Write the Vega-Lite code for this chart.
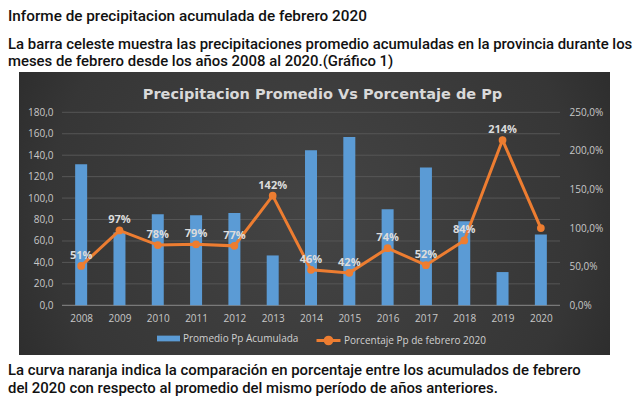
{
  "$schema": "https://vega.github.io/schema/vega-lite/v6.json",
  "width": 591,
  "height": 283,
  "autosize": {"type": "none"},
  "padding": {"left": 19, "top": 72, "right": 29, "bottom": 53},
  "background": "#ffffff",
  "config": {
    "view": {
      "stroke": null,
      "fill": {
        "gradient": "radial",
        "x1": 0.5, "y1": 0.5, "x2": 0.5, "y2": 0.5, "r1": 0, "r2": 0.75,
        "stops": [
          {"offset": 0, "color": "#444444"},
          {"offset": 0.6, "color": "#363636"},
          {"offset": 1, "color": "#1e1e1e"}
        ]
      }
    },
    "font": "Open Sans",
    "axis": {"domain": false, "ticks": false, "grid": false, "labelColor": "#c8c8c8", "labelFont": "Open Sans", "labelFontSize": 10, "labelOverlap": false, "title": null},
    "legend": {"labelColor": "#d0d0d0", "labelFont": "Open Sans", "labelFontSize": 10}
  },
  "title": {
    "text": "Informe de precipitacion acumulada de febrero 2020",
    "subtitle": [
      "La barra celeste muestra las precipitaciones promedio acumuladas en la provincia durante los",
      "meses de febrero desde los años 2008 al 2020.(Gráfico 1)"
    ],
    "anchor": "start",
    "frame": "group",
    "dx": -11,
    "offset": 3,
    "font": "Roboto",
    "fontSize": 15.3,
    "fontWeight": 500,
    "color": "#111111",
    "subtitleFont": "Roboto",
    "subtitleFontSize": 14.9,
    "subtitleFontWeight": 500,
    "subtitleColor": "#111111",
    "subtitleLineHeight": 17,
    "subtitlePadding": 13
  },
  "datasets": {
    "febrero": [
      {"anio": 2008, "pp": 131.5, "pct": 0.51},
      {"anio": 2009, "pp": 68, "pct": 0.97},
      {"anio": 2010, "pp": 85, "pct": 0.78},
      {"anio": 2011, "pp": 84, "pct": 0.79},
      {"anio": 2012, "pp": 86, "pct": 0.77},
      {"anio": 2013, "pp": 46.5, "pct": 1.42},
      {"anio": 2014, "pp": 144.5, "pct": 0.46},
      {"anio": 2015, "pp": 157, "pct": 0.42},
      {"anio": 2016, "pp": 89.5, "pct": 0.74},
      {"anio": 2017, "pp": 128.5, "pct": 0.52},
      {"anio": 2018, "pp": 78.5, "pct": 0.84},
      {"anio": 2019, "pp": 31, "pct": 2.14},
      {"anio": 2020, "pp": 66, "pct": 1.0}
    ],
    "grilla": [
      {"v": 20}, {"v": 40}, {"v": 60}, {"v": 80}, {"v": 100},
      {"v": 120}, {"v": 140}, {"v": 160}, {"v": 180}
    ]
  },
  "data": {"name": "febrero"},
  "layer": [
    {
      "layer": [
        {
          "data": {"name": "grilla"},
          "mark": {"type": "rule", "color": "#565656", "strokeWidth": 1},
          "encoding": {
            "x": {"datum": 2007.5, "type": "quantitative", "scale": {"domain": [2006.3775, 2021.805], "nice": false, "zero": false, "padding": 0}, "axis": null},
            "x2": {"datum": 2020.5},
            "y": {"field": "v", "type": "quantitative", "scale": {"domain": [-46.35, 217.59], "nice": false, "zero": false}, "axis": null}
          }
        },
        {
          "data": {"values": [{}]},
          "mark": {"type": "rule", "color": "#8a8a8a", "strokeWidth": 1},
          "encoding": {
            "x": {"datum": 2007.5, "type": "quantitative", "scale": {"domain": [2006.3775, 2021.805], "nice": false, "zero": false, "padding": 0}, "axis": null},
            "x2": {"datum": 2020.5},
            "y": {"datum": 0, "type": "quantitative", "scale": {"domain": [-46.35, 217.59], "nice": false, "zero": false}, "axis": null}
          }
        }
      ]
    },
    {
      "layer": [
        {
          "mark": {"type": "bar", "width": 12},
          "encoding": {
            "x": {
              "field": "anio", "type": "quantitative",
              "scale": {"domain": [2006.3775, 2021.805], "nice": false, "zero": false, "padding": 0},
              "axis": {"orient": "bottom", "offset": -50, "values": [2008, 2009, 2010, 2011, 2012, 2013, 2014, 2015, 2016, 2017, 2018, 2019, 2020], "tickCount": 30, "format": "d", "title": null, "labelPadding": 8, "labelOverlap": false}
            },
            "y": {
              "field": "pp", "type": "quantitative",
              "scale": {"domain": [-46.35, 217.59], "nice": false, "zero": false},
              "axis": {"orient": "left", "offset": -43, "values": [0, 20, 40, 60, 80, 100, 120, 140, 160, 180], "tickCount": 30, "labelExpr": "replace(format(datum.value, '.1f'), '.', ',')", "title": null, "labelPadding": 9, "labelOverlap": false}
            },
            "y2": {"datum": 0},
            "fill": {"datum": "Promedio Pp Acumulada", "type": "nominal", "scale": {"range": ["#5b9bd5"]},
              "legend": {"title": null, "orient": "none", "legendX": 138, "legendY": 255, "symbolType": "M-1,-0.25H1V0.25H-1Z", "symbolSize": 529, "symbolStrokeWidth": 0, "labelOffset": 3}}
          }
        },
        {
          "data": {"values": [{}]},
          "mark": {"type": "text", "text": "Precipitacion Promedio Vs Porcentaje de Pp", "font": "DejaVu Sans", "fontSize": 14.5, "fontWeight": "bold", "color": "#d9d9d9", "align": "center", "baseline": "middle"},
          "encoding": {
            "x": {"datum": 2014.3, "type": "quantitative", "scale": {"domain": [2006.3775, 2021.805], "nice": false, "zero": false, "padding": 0}},
            "y": {"datum": 196.1, "type": "quantitative", "scale": {"domain": [-46.35, 217.59], "nice": false, "zero": false}}
          }
        },
        {
          "data": {"values": [{}]},
          "mark": {"type": "text", "text": "La curva naranja indica la comparación en porcentaje entre los acumulados de febrero", "font": "Roboto", "fontSize": 14.9, "fontWeight": 500, "color": "#111111", "align": "left", "baseline": "middle"},
          "encoding": {
            "x": {"datum": 2006.09, "type": "quantitative", "scale": {"domain": [2006.3775, 2021.805], "nice": false, "zero": false, "padding": 0}},
            "y": {"datum": -61.5, "type": "quantitative", "scale": {"domain": [-46.35, 217.59], "nice": false, "zero": false}}
          }
        },
        {
          "data": {"values": [{}]},
          "mark": {"type": "text", "text": "del 2020 con respecto al promedio del mismo período de años anteriores.", "font": "Roboto", "fontSize": 14.9, "fontWeight": 500, "color": "#111111", "align": "left", "baseline": "middle"},
          "encoding": {
            "x": {"datum": 2006.09, "type": "quantitative", "scale": {"domain": [2006.3775, 2021.805], "nice": false, "zero": false, "padding": 0}},
            "y": {"datum": -78.1, "type": "quantitative", "scale": {"domain": [-46.35, 217.59], "nice": false, "zero": false}}
          }
        }
      ]
    },
    {
      "layer": [
        {
          "mark": {"type": "line", "strokeWidth": 3},
          "encoding": {
            "x": {"field": "anio", "type": "quantitative", "scale": {"domain": [2006.3775, 2021.805], "nice": false, "zero": false, "padding": 0}, "axis": null},
            "y": {
              "field": "pct", "type": "quantitative",
              "scale": {"domain": [-0.6438, 3.022], "nice": false, "zero": false},
              "axis": {"orient": "right", "offset": -50, "values": [0, 0.5, 1, 1.5, 2, 2.5], "tickCount": 30, "labelExpr": "replace(format(datum.value, '.1%'), '.', ',')", "title": null, "labelPadding": 9, "labelOverlap": false}
            },
            "stroke": {"datum": "Porcentaje Pp de febrero 2020", "type": "nominal", "scale": {"range": ["#ed7d31"]},
              "legend": {"title": null, "orient": "none", "legendX": 296, "legendY": 255, "symbolType": "M-1,0H1M0.28,0A0.28,0.28,0,1,1,-0.28,0A0.28,0.28,0,1,1,0.28,0Z", "symbolSize": 576, "symbolStrokeWidth": 3, "symbolFillColor": "#ed7d31", "labelOffset": 2}}
          }
        },
        {
          "mark": {"type": "point", "shape": "circle", "filled": true, "size": 60, "color": "#ed7d31", "opacity": 1},
          "encoding": {
            "x": {"field": "anio", "type": "quantitative", "scale": {"domain": [2006.3775, 2021.805], "nice": false, "zero": false, "padding": 0}, "axis": null},
            "y": {"field": "pct", "type": "quantitative", "scale": {"domain": [-0.6438, 3.022], "nice": false, "zero": false}}
          }
        },
        {
          "transform": [{"filter": "datum.anio < 2020"}],
          "mark": {"type": "text", "dy": -10, "font": "Open Sans", "fontSize": 11, "fontWeight": "bold", "color": "#dcdcdc", "baseline": "middle"},
          "encoding": {
            "x": {"field": "anio", "type": "quantitative", "scale": {"domain": [2006.3775, 2021.805], "nice": false, "zero": false, "padding": 0}, "axis": null},
            "y": {"field": "pct", "type": "quantitative", "scale": {"domain": [-0.6438, 3.022], "nice": false, "zero": false}},
            "text": {"field": "pct", "type": "quantitative", "format": ".0%"}
          }
        }
      ]
    }
  ],
  "resolve": {"scale": {"x": "independent", "y": "independent"}}
}
